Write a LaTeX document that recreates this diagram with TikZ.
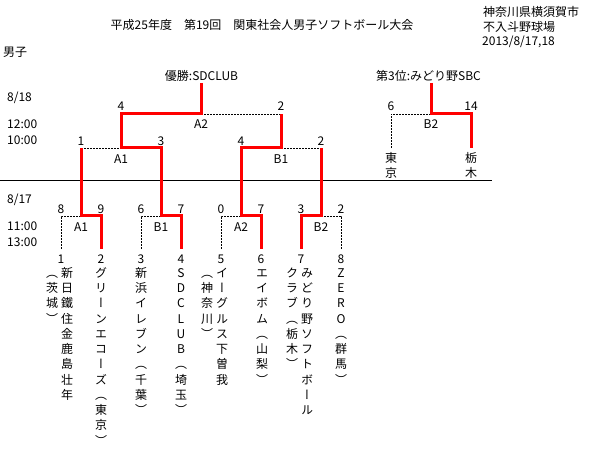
\documentclass[tikz,border=0pt]{standalone}
\usepackage{fontspec}
\setmainfont{Noto Sans CJK JP}
\newfontfamily\vjp[RawFeature=+vert]{Noto Sans CJK JP}
\tikzset{
  txt/.style={inner sep=0pt, font=\fontsize{12}{14}\selectfont},
  vch/.style={inner sep=0pt, font=\vjp\fontsize{12}{14}\selectfont, text height=10.3pt, text depth=1.5pt},
  win/.style={draw=red, line width=3pt, line join=miter},
  lose/.style={draw=black, line width=0.9pt, dash pattern=on 2pt off 1pt},
  sepline/.style={draw=black, line width=1pt},
}
\newcommand\vcol[4]{\foreach \ch [count=\i] in {#4}{\node[vch] (#1-\i) at (#2,{#3+15.25*(\i-1)}) {\ch};}}
\begin{document}
\begin{tikzpicture}[x=1pt,y=-1pt]
\fill[white] (0,0) rectangle (592,449);
\useasboundingbox (0,0) rectangle (592,449);

% headings
\node[txt] (title) at (262,24.5) {平成25年度　第19回　関東社会人男子ソフトボール大会};
\node[txt,anchor=west] (place1) at (483,12) {神奈川県横須賀市};
\node[txt,anchor=west] (place2) at (483,27) {不入斗野球場};
\node[txt,anchor=west] (date) at (482,42) {2013/8/17,18};
\node[txt,anchor=west] (men) at (3,52) {男子};
\node[txt] (champ) at (201.5,76) {優勝:SDCLUB};
\node[txt,anchor=west] (third) at (376,76) {第3位:みどり野SBC};

% times
\node[txt,anchor=west] (d18) at (7,98) {8/18};
\node[txt,anchor=west] (t12) at (7,124) {12:00};
\node[txt,anchor=west] (t10) at (7,140) {10:00};
\node[txt,anchor=west] (d17) at (7,199.5) {8/17};
\node[txt,anchor=west] (t11) at (7,226) {11:00};
\node[txt,anchor=west] (t13) at (7,242.5) {13:00};

% separator
\coordinate (sepL) at (0,181);
\coordinate (sepR) at (492,181);
\draw[sepline] (sepL) -- (sepR);

% coordinates: first round
\foreach \k/\x in {1/61,2/101,3/141,4/181,5/221,6/261,7/301,8/341}{
  \coordinate (b\k) at (\x,249);
  \coordinate (u\k) at (\x,216);
}
\coordinate (mA1) at (81,216);
\coordinate (mB1) at (161,216);
\coordinate (mA2) at (241,216);
\coordinate (mB2) at (321,216);
% second round
\coordinate (sA1L) at (81,148);
\coordinate (sA1) at (121,148);
\coordinate (sA1R) at (161,148);
\coordinate (sB1L) at (241,148);
\coordinate (sB1) at (281,148);
\coordinate (sB1R) at (321,148);
% final
\coordinate (fL) at (121,114);
\coordinate (fM) at (201,114);
\coordinate (fR) at (281,114);
\coordinate (fTop) at (201,83);
% third place
\coordinate (tLb) at (391,148);
\coordinate (tL) at (391,114);
\coordinate (tM) at (431,114);
\coordinate (tR) at (471,114);
\coordinate (tRb) at (471,148);
\coordinate (tTop) at (431,83);

% losing sides
\draw[lose] (b1) -- (u1) -- (mA1);
\draw[lose] (b3) -- (u3) -- (mB1);
\draw[lose] (b5) -- (u5) -- (mA2);
\draw[lose] (b8) -- (u8) -- (mB2);
\draw[lose] (sA1L) -- (sA1);
\draw[lose] (sB1) -- (sB1R);
\draw[lose] (fM) -- (fR);
\draw[lose] (tLb) -- (tL) -- (tM);

% winning paths
\draw[win] (b2) -- (u2) -- (mA1) -- (sA1L);
\draw[win] (b4) -- (u4) -- (mB1) -- (sA1R) -- (sA1) -- (fL) -- (fM) -- (fTop);
\draw[win] (b6) -- (u6) -- (mA2) -- (sB1L) -- (sB1) -- (fR);
\draw[win] (b7) -- (u7) -- (mB2) -- (sB1R);
\draw[win] (tRb) -- (tR) -- (tM) -- (tTop);

% scores first round
\node[txt] (s1) at (61,209.5) {8};
\node[txt] (s2) at (101,209.5) {9};
\node[txt] (s3) at (141,209.5) {6};
\node[txt] (s4) at (181,209.5) {7};
\node[txt] (s5) at (221,209.5) {0};
\node[txt] (s6) at (261,209.5) {7};
\node[txt] (s7) at (301,209.5) {3};
\node[txt] (s8) at (341,209.5) {2};
\node[txt] (lA1) at (81,227) {A1};
\node[txt] (lB1) at (161,227) {B1};
\node[txt] (lA2) at (241,227) {A2};
\node[txt] (lB2) at (321,227) {B2};
% scores second round
\node[txt] (r1) at (81,141) {1};
\node[txt] (r2) at (161,141) {3};
\node[txt] (r3) at (241,141) {4};
\node[txt] (r4) at (321,141) {2};
\node[txt] (lsA1) at (121,159) {A1};
\node[txt] (lsB1) at (281,159) {B1};
% final scores
\node[txt] (f1) at (121,106.5) {4};
\node[txt] (f2) at (281,106.5) {2};
\node[txt] (lF) at (201,124) {A2};
% third place
\node[txt] (h1) at (391,106.5) {6};
\node[txt] (h2) at (471,106.5) {14};
\node[txt] (lT) at (431,124) {B2};
\vcol{tk}{391}{158}{東,京}
\vcol{tg}{471}{158}{栃,木}

% team numbers
\foreach \k/\x in {1/61,2/101,3/141,4/181,5/221,6/261,7/301,8/341}{
  \node[txt] (n\k) at (\x,259.5) {\k};
}

% team names (vertical)
\vcol{t1a}{67}{273}{新,日,鐵,住,金,鹿,島,壮,年}
\vcol{t1b}{52}{273}{︵,茨,城,︶}
\vcol{t2}{101}{273}{グ,リ,ー,ン,エ,コ,ー,ズ,︵,東,京,︶}
\vcol{t3}{141}{273}{新,浜,イ,レ,ブ,ン,︵,千,葉,︶}
\vcol{t4}{181}{273}{S,D,C,L,U,B,︵,埼,玉,︶}
\vcol{t5a}{222}{273}{イ,ー,グ,ル,ス,下,曽,我}
\vcol{t5b}{207}{273}{︵,神,奈,川,︶}
\vcol{t6}{262}{273}{エ,イ,ボ,ム,︵,山,梨,︶}
\vcol{t7a}{307}{273}{み,ど,り,野,ソ,フ,ト,ボ,ー,ル}
\vcol{t7b}{292}{273}{ク,ラ,ブ,︵,栃,木,︶}
\vcol{t8}{341}{273}{Z,E,R,O,︵,群,馬,︶}
\end{tikzpicture}
\end{document}
